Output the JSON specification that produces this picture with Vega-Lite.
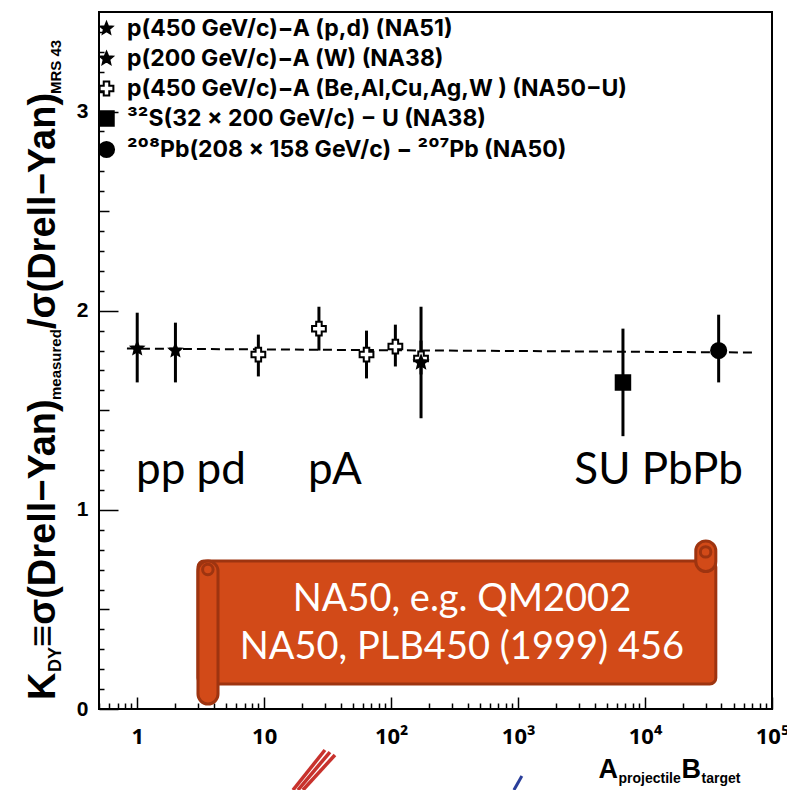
{
  "$schema": "https://vega.github.io/schema/vega-lite/v6.json",
  "width": 673,
  "height": 697,
  "autosize": {"type": "none"},
  "padding": {"left": 99, "top": 12, "right": 15, "bottom": 81},
  "background": "white",
  "config": {
    "view": {"stroke": "black", "strokeWidth": 2},
    "axis": {"grid": false, "domain": false, "tickColor": "black", "tickWidth": 1.5, "labelColor": "black", "labelFont": "Liberation Sans", "labelFontWeight": "bold", "title": null}
  },
  "datasets": {
    "points": [
      {"series": "p(450 GeV/c)−A (p,d) (NA51)", "x": 1, "y": 1.81, "lo": 1.64, "hi": 1.99},
      {"series": "p(450 GeV/c)−A (p,d) (NA51)", "x": 2, "y": 1.80, "lo": 1.64, "hi": 1.94},
      {"series": "p(450 GeV/c)−A (Be,Al,Cu,Ag,W ) (NA50−U)", "x": 9, "y": 1.78, "lo": 1.67, "hi": 1.88},
      {"series": "p(450 GeV/c)−A (Be,Al,Cu,Ag,W ) (NA50−U)", "x": 27, "y": 1.91, "lo": 1.80, "hi": 2.02},
      {"series": "p(450 GeV/c)−A (Be,Al,Cu,Ag,W ) (NA50−U)", "x": 64, "y": 1.78, "lo": 1.66, "hi": 1.90},
      {"series": "p(450 GeV/c)−A (Be,Al,Cu,Ag,W ) (NA50−U)", "x": 108, "y": 1.82, "lo": 1.72, "hi": 1.93},
      {"series": "p(450 GeV/c)−A (Be,Al,Cu,Ag,W ) (NA50−U)", "x": 172, "y": 1.76, "lo": 1.68, "hi": 1.85},
      {"series": "p(200 GeV/c)−A (W) (NA38)", "x": 172, "y": 1.74, "lo": 1.46, "hi": 2.02},
      {"series": "³²S(32 x 200 GeV/c) − U (NA38)", "x": 6700, "y": 1.64, "lo": 1.37, "hi": 1.91},
      {"series": "²⁰⁸Pb(208 x 158 GeV/c) − ²⁰⁷Pb (NA50)", "x": 38000, "y": 1.80, "lo": 1.64, "hi": 1.98}
    ],
    "fit": [
      {"x": 0.83, "y": 1.81},
      {"x": 76000, "y": 1.79}
    ]
  },
  "layer": [
    {
      "data": {"name": "fit"},
      "mark": {"type": "line", "color": "black", "strokeWidth": 2, "strokeDash": [9, 5]},
      "encoding": {
        "x": {"field": "x", "type": "quantitative", "scale": {"type": "log", "domain": [0.5, 100000], "nice": false},
          "axis": {"orient": "bottom", "values": [0.5,0.6,0.7,0.8,0.9,2,3,4,5,6,7,8,9,20,30,40,50,60,70,80,90,200,300,400,500,600,700,800,900,2000,3000,4000,5000,6000,7000,8000,9000,20000,30000,40000,50000,60000,70000,80000,90000], "tickSize": -6, "labels": false}},
        "y": {"field": "y", "type": "quantitative", "scale": {"domain": [0, 3.5], "nice": false, "zero": false},
          "axis": {"orient": "left", "values": [0.1,0.2,0.3,0.4,0.6,0.7,0.8,0.9,1.1,1.2,1.3,1.4,1.6,1.7,1.8,1.9,2.1,2.2,2.3,2.4,2.6,2.7,2.8,2.9,3.1,3.2,3.3,3.4], "tickSize": -5, "labels": false}}
      }
    },
    {
      "data": {"name": "points"},
      "mark": {"type": "rule", "color": "black", "strokeWidth": 3},
      "encoding": {
        "x": {"field": "x", "type": "quantitative", "scale": {"type": "log", "domain": [0.5, 100000], "nice": false}, "axis": {"orient": "bottom", "values": [1, 10, 100, 1000, 10000, 100000], "tickSize": -12, "labels": false}},
        "y": {"field": "lo", "type": "quantitative", "scale": {"domain": [0, 3.5], "nice": false, "zero": false}, "axis": {"orient": "left", "values": [0.5, 1.5, 2.5], "tickSize": -10, "labels": false}},
        "y2": {"field": "hi"}
      }
    },
    {
      "data": {"name": "points"},
      "mark": {"type": "point", "filled": true, "stroke": "black", "strokeWidth": 2, "opacity": 1},
      "encoding": {
        "x": {"field": "x", "type": "quantitative", "scale": {"type": "log", "domain": [0.5, 100000], "nice": false},
          "axis": {"orient": "bottom", "values": [1, 10, 100, 1000, 10000, 100000], "ticks": false, "labelPadding": 17, "labelFontSize": 22, "labelFont": "Noto Sans", "labelFlush": false, "labelOverlap": false, "labelBound": false,
            "labelExpr": "datum.value == 1 ? '1' : datum.value == 10 ? '10' : datum.value == 100 ? '10²' : datum.value == 1000 ? '10³' : datum.value == 10000 ? '10⁴' : '10⁵'"}},
        "y": {"field": "y", "type": "quantitative", "scale": {"domain": [0, 3.5], "nice": false, "zero": false},
          "axis": {"orient": "left", "values": [0, 1, 2, 3], "ticks": false, "labelPadding": 11, "labelFontSize": 21, "labelFlush": false}},
        "shape": {"field": "series", "type": "nominal",
          "scale": {"domain": ["p(450 GeV/c)−A (p,d) (NA51)", "p(200 GeV/c)−A (W) (NA38)", "p(450 GeV/c)−A (Be,Al,Cu,Ag,W ) (NA50−U)", "³²S(32 x 200 GeV/c) − U (NA38)", "²⁰⁸Pb(208 x 158 GeV/c) − ²⁰⁷Pb (NA50)"],
            "range": ["M0,-1L0.2645,-0.364L0.951,-0.309L0.428,0.139L0.588,0.809L0,0.45L-0.588,0.809L-0.428,0.139L-0.951,-0.309L-0.2645,-0.364Z", "M0,-1L0.2645,-0.364L0.951,-0.309L0.428,0.139L0.588,0.809L0,0.45L-0.588,0.809L-0.428,0.139L-0.951,-0.309L-0.2645,-0.364Z", "cross", "square", "circle"]},
          "legend": {"orient": "none", "legendX": -4, "legendY": 5, "title": null, "padding": 0, "labelFontSize": 23, "labelFont": "Inter", "labelFontWeight": "bold", "labelColor": "black", "rowPadding": 6, "labelOffset": 9, "labelLimit": 0, "symbolStrokeColor": "black", "symbolStrokeWidth": 2, "symbolOpacity": 1}},
        "size": {"field": "series", "type": "nominal",
          "scale": {"domain": ["p(450 GeV/c)−A (p,d) (NA51)", "p(200 GeV/c)−A (W) (NA38)", "p(450 GeV/c)−A (Be,Al,Cu,Ag,W ) (NA50−U)", "³²S(32 x 200 GeV/c) − U (NA38)", "²⁰⁸Pb(208 x 158 GeV/c) − ²⁰⁷Pb (NA50)"],
            "range": [150, 230, 290, 150, 150]}},
        "fill": {"field": "series", "type": "nominal",
          "scale": {"domain": ["p(450 GeV/c)−A (p,d) (NA51)", "p(200 GeV/c)−A (W) (NA38)", "p(450 GeV/c)−A (Be,Al,Cu,Ag,W ) (NA50−U)", "³²S(32 x 200 GeV/c) − U (NA38)", "²⁰⁸Pb(208 x 158 GeV/c) − ²⁰⁷Pb (NA50)"],
            "range": ["black", "black", "white", "black", "black"]}}
      }
    },
    {
      "data": {"values": [{}]},
      "mark": {"type": "rect", "fill": "#D24A18", "stroke": "#9E3410", "strokeWidth": 3, "cornerRadius": 6},
      "encoding": {
        "x": {"datum": 3.01, "type": "quantitative", "scale": {"type": "log", "domain": [0.5, 100000], "nice": false}, "axis": null},
        "x2": {"datum": 36100},
        "y": {"datum": 0.126, "type": "quantitative", "scale": {"domain": [0, 3.5], "nice": false, "zero": false}, "axis": {"orient": "left", "values": [0, 1, 2, 3], "tickSize": -19, "labels": false}},
        "y2": {"datum": 0.743}
      }
    },
    {
      "data": {"values": [{}]},
      "mark": {"type": "rect", "fill": "#D24A18", "stroke": "#9E3410", "strokeWidth": 3, "cornerRadius": 10},
      "encoding": {
        "x": {"datum": 25100, "type": "quantitative", "scale": {"type": "log", "domain": [0.5, 100000], "nice": false}, "axis": null},
        "x2": {"datum": 36100},
        "y": {"datum": 0.69, "type": "quantitative", "scale": {"domain": [0, 3.5], "nice": false, "zero": false}, "axis": null},
        "y2": {"datum": 0.844}
      }
    },
    {
      "data": {"values": [{}]},
      "mark": {"type": "rect", "fill": "#D24A18", "stroke": "#9E3410", "strokeWidth": 3, "cornerRadius": 10},
      "encoding": {
        "x": {"datum": 3.01, "type": "quantitative", "scale": {"type": "log", "domain": [0.5, 100000], "nice": false}, "axis": null},
        "x2": {"datum": 4.33},
        "y": {"datum": 0.025, "type": "quantitative", "scale": {"domain": [0, 3.5], "nice": false, "zero": false}, "axis": null},
        "y2": {"datum": 0.743}
      }
    },
    {
      "data": {"values": [{}]},
      "mark": {"type": "point", "shape": "circle", "size": 110, "filled": false, "stroke": "#9E3410", "strokeWidth": 3, "opacity": 1},
      "encoding": {
        "x": {"datum": 3.6, "type": "quantitative", "scale": {"type": "log", "domain": [0.5, 100000], "nice": false}, "axis": null},
        "y": {"datum": 0.70, "type": "quantitative", "scale": {"domain": [0, 3.5], "nice": false, "zero": false}, "axis": null}
      }
    },
    {
      "data": {"values": [{}]},
      "mark": {"type": "point", "shape": "circle", "size": 110, "filled": false, "stroke": "#9E3410", "strokeWidth": 3, "opacity": 1},
      "encoding": {
        "x": {"datum": 30000, "type": "quantitative", "scale": {"type": "log", "domain": [0.5, 100000], "nice": false}, "axis": null},
        "y": {"datum": 0.789, "type": "quantitative", "scale": {"domain": [0, 3.5], "nice": false, "zero": false}, "axis": null}
      }
    },
    {
      "data": {"values": [{}]},
      "mark": {"type": "text", "text": "NA50, e.g. QM2002", "font": "Lato", "fontSize": 38, "color": "white", "align": "center", "baseline": "alphabetic"},
      "encoding": {
        "x": {"datum": 361, "type": "quantitative", "scale": {"type": "log", "domain": [0.5, 100000], "nice": false}, "axis": null},
        "y": {"datum": 0.492, "type": "quantitative", "scale": {"domain": [0, 3.5], "nice": false, "zero": false}, "axis": null}
      }
    },
    {
      "data": {"values": [{}]},
      "mark": {"type": "text", "text": "NA50, PLB450 (1999) 456", "font": "Lato", "fontSize": 38, "color": "white", "align": "center", "baseline": "alphabetic"},
      "encoding": {
        "x": {"datum": 361, "type": "quantitative", "scale": {"type": "log", "domain": [0.5, 100000], "nice": false}, "axis": null},
        "y": {"datum": 0.251, "type": "quantitative", "scale": {"domain": [0, 3.5], "nice": false, "zero": false}, "axis": null}
      }
    },
    {
      "data": {"values": [{}]},
      "mark": {"type": "text", "text": "pp pd", "font": "Lato", "fontSize": 44, "color": "black", "align": "center", "baseline": "alphabetic"},
      "encoding": {
        "x": {"datum": 2.65, "type": "quantitative", "scale": {"type": "log", "domain": [0.5, 100000], "nice": false}, "axis": null},
        "y": {"datum": 1.13, "type": "quantitative", "scale": {"domain": [0, 3.5], "nice": false, "zero": false}, "axis": null}
      }
    },
    {
      "data": {"values": [{}]},
      "mark": {"type": "text", "text": "pA", "font": "Lato", "fontSize": 44, "color": "black", "align": "center", "baseline": "alphabetic"},
      "encoding": {
        "x": {"datum": 36.1, "type": "quantitative", "scale": {"type": "log", "domain": [0.5, 100000], "nice": false}, "axis": null},
        "y": {"datum": 1.13, "type": "quantitative", "scale": {"domain": [0, 3.5], "nice": false, "zero": false}, "axis": null}
      }
    },
    {
      "data": {"values": [{}]},
      "mark": {"type": "text", "text": "SU PbPb", "font": "Lato", "fontSize": 44, "color": "black", "align": "center", "baseline": "alphabetic"},
      "encoding": {
        "x": {"datum": 12800, "type": "quantitative", "scale": {"type": "log", "domain": [0.5, 100000], "nice": false}, "axis": null},
        "y": {"datum": 1.13, "type": "quantitative", "scale": {"domain": [0, 3.5], "nice": false, "zero": false}, "axis": null}
      }
    },
    {
      "data": {"values": [{}]},
      "mark": {"type": "rule", "color": "#C8322D", "strokeWidth": 3.5},
      "encoding": {
        "x": {"datum": 16.86, "type": "quantitative", "scale": {"type": "log", "domain": [0.5, 100000], "nice": false}, "axis": null},
        "x2": {"datum": 30.1},
        "y": {"datum": -0.407, "type": "quantitative", "scale": {"domain": [0, 3.5], "nice": false, "zero": false}, "axis": null},
        "y2": {"datum": -0.206}
      }
    },
    {
      "data": {"values": [{}]},
      "mark": {"type": "rule", "color": "#C8322D", "strokeWidth": 3.5},
      "encoding": {
        "x": {"datum": 18.45, "type": "quantitative", "scale": {"type": "log", "domain": [0.5, 100000], "nice": false}, "axis": null},
        "x2": {"datum": 32.97},
        "y": {"datum": -0.407, "type": "quantitative", "scale": {"domain": [0, 3.5], "nice": false, "zero": false}, "axis": null},
        "y2": {"datum": -0.216}
      }
    },
    {
      "data": {"values": [{}]},
      "mark": {"type": "rule", "color": "#C8322D", "strokeWidth": 3.5},
      "encoding": {
        "x": {"datum": 20.2, "type": "quantitative", "scale": {"type": "log", "domain": [0.5, 100000], "nice": false}, "axis": null},
        "x2": {"datum": 36.1},
        "y": {"datum": -0.407, "type": "quantitative", "scale": {"domain": [0, 3.5], "nice": false, "zero": false}, "axis": null},
        "y2": {"datum": -0.231}
      }
    },
    {
      "data": {"values": [{}]},
      "mark": {"type": "rule", "color": "#2A3E9A", "strokeWidth": 3},
      "encoding": {
        "x": {"datum": 927, "type": "quantitative", "scale": {"type": "log", "domain": [0.5, 100000], "nice": false}, "axis": null},
        "x2": {"datum": 1071},
        "y": {"datum": -0.407, "type": "quantitative", "scale": {"domain": [0, 3.5], "nice": false, "zero": false}, "axis": null},
        "y2": {"datum": -0.336}
      }
    },
    {
      "data": {"values": [{}]},
      "mark": {"type": "text", "text": "A", "font": "Liberation Sans", "fontWeight": "bold", "fontSize": 27, "color": "black", "align": "left", "baseline": "alphabetic"},
      "encoding": {
        "x": {"datum": 4300, "type": "quantitative", "scale": {"type": "log", "domain": [0.5, 100000], "nice": false}, "axis": null},
        "y": {"datum": -0.347, "type": "quantitative", "scale": {"domain": [0, 3.5], "nice": false, "zero": false}, "axis": null}
      }
    },
    {
      "data": {"values": [{}]},
      "mark": {"type": "text", "text": "projectile", "font": "Liberation Sans", "fontWeight": "bold", "fontSize": 14, "color": "black", "align": "left", "baseline": "alphabetic", "dx": 20, "dy": 5},
      "encoding": {
        "x": {"datum": 4300, "type": "quantitative", "scale": {"type": "log", "domain": [0.5, 100000], "nice": false}, "axis": null},
        "y": {"datum": -0.347, "type": "quantitative", "scale": {"domain": [0, 3.5], "nice": false, "zero": false}, "axis": null}
      }
    },
    {
      "data": {"values": [{}]},
      "mark": {"type": "text", "text": "B", "font": "Liberation Sans", "fontWeight": "bold", "fontSize": 27, "color": "black", "align": "left", "baseline": "alphabetic", "dx": 83},
      "encoding": {
        "x": {"datum": 4300, "type": "quantitative", "scale": {"type": "log", "domain": [0.5, 100000], "nice": false}, "axis": null},
        "y": {"datum": -0.347, "type": "quantitative", "scale": {"domain": [0, 3.5], "nice": false, "zero": false}, "axis": null}
      }
    },
    {
      "data": {"values": [{}]},
      "mark": {"type": "text", "text": "target", "font": "Liberation Sans", "fontWeight": "bold", "fontSize": 14, "color": "black", "align": "left", "baseline": "alphabetic", "dx": 103, "dy": 5},
      "encoding": {
        "x": {"datum": 4300, "type": "quantitative", "scale": {"type": "log", "domain": [0.5, 100000], "nice": false}, "axis": null},
        "y": {"datum": -0.347, "type": "quantitative", "scale": {"domain": [0, 3.5], "nice": false, "zero": false}, "axis": null}
      }
    },
    {
      "data": {"values": [{}]},
      "mark": {"type": "text", "text": "K", "font": "Liberation Sans", "fontWeight": "bold", "fontSize": 38, "color": "black", "align": "left", "baseline": "alphabetic", "angle": 270},
      "encoding": {
        "x": {"datum": 0.2254, "type": "quantitative", "scale": {"type": "log", "domain": [0.5, 100000], "nice": false}, "axis": null},
        "y": {"datum": 0.045, "type": "quantitative", "scale": {"domain": [0, 3.5], "nice": false, "zero": false}, "axis": null}
      }
    },
    {
      "data": {"values": [{}]},
      "mark": {"type": "text", "text": "DY", "font": "Liberation Sans", "fontWeight": "bold", "fontSize": 18, "color": "black", "align": "left", "baseline": "alphabetic", "angle": 270, "dx": 28, "dy": 6},
      "encoding": {
        "x": {"datum": 0.2254, "type": "quantitative", "scale": {"type": "log", "domain": [0.5, 100000], "nice": false}, "axis": null},
        "y": {"datum": 0.045, "type": "quantitative", "scale": {"domain": [0, 3.5], "nice": false, "zero": false}, "axis": null}
      }
    },
    {
      "data": {"values": [{}]},
      "mark": {"type": "text", "text": "≡σ(Drell−Yan)", "font": "Liberation Sans", "fontWeight": "bold", "fontSize": 38, "color": "black", "align": "left", "baseline": "alphabetic", "angle": 270, "dx": 53},
      "encoding": {
        "x": {"datum": 0.2254, "type": "quantitative", "scale": {"type": "log", "domain": [0.5, 100000], "nice": false}, "axis": null},
        "y": {"datum": 0.045, "type": "quantitative", "scale": {"domain": [0, 3.5], "nice": false, "zero": false}, "axis": null}
      }
    },
    {
      "data": {"values": [{}]},
      "mark": {"type": "text", "text": "measured", "font": "Liberation Sans", "fontWeight": "bold", "fontSize": 15, "color": "black", "align": "left", "baseline": "alphabetic", "angle": 270, "dx": 300, "dy": 6},
      "encoding": {
        "x": {"datum": 0.2254, "type": "quantitative", "scale": {"type": "log", "domain": [0.5, 100000], "nice": false}, "axis": null},
        "y": {"datum": 0.045, "type": "quantitative", "scale": {"domain": [0, 3.5], "nice": false, "zero": false}, "axis": null}
      }
    },
    {
      "data": {"values": [{}]},
      "mark": {"type": "text", "text": "/σ(Drell−Yan)", "font": "Liberation Sans", "fontWeight": "bold", "fontSize": 38, "color": "black", "align": "left", "baseline": "alphabetic", "angle": 270, "dx": 371},
      "encoding": {
        "x": {"datum": 0.2254, "type": "quantitative", "scale": {"type": "log", "domain": [0.5, 100000], "nice": false}, "axis": null},
        "y": {"datum": 0.045, "type": "quantitative", "scale": {"domain": [0, 3.5], "nice": false, "zero": false}, "axis": null}
      }
    },
    {
      "data": {"values": [{}]},
      "mark": {"type": "text", "text": "MRS 43", "font": "Liberation Sans", "fontWeight": "bold", "fontSize": 15, "color": "black", "align": "left", "baseline": "alphabetic", "angle": 270, "dx": 606, "dy": 6},
      "encoding": {
        "x": {"datum": 0.2254, "type": "quantitative", "scale": {"type": "log", "domain": [0.5, 100000], "nice": false}, "axis": null},
        "y": {"datum": 0.045, "type": "quantitative", "scale": {"domain": [0, 3.5], "nice": false, "zero": false}, "axis": null}
      }
    }
  ],
  "resolve": {"axis": {"x": "independent", "y": "independent"}}
}
